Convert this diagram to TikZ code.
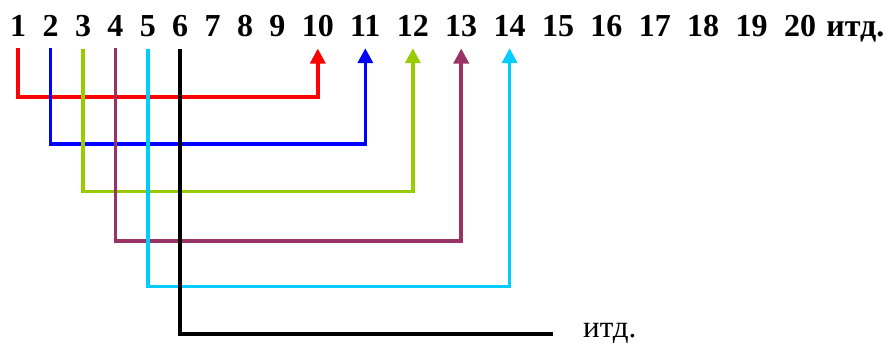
\documentclass[tikz,border=0pt]{standalone}
\usepackage{fontspec}
\setmainfont{Liberation Serif}
\usetikzlibrary{positioning,arrows.meta}
\definecolor{linkgreen}{HTML}{99CC00}
\definecolor{linkplum}{HTML}{993366}
\definecolor{linkcyan}{HTML}{00CCFF}
\begin{document}
\begin{tikzpicture}[x=1pt,y=-1pt,
  num/.style={inner xsep=0pt,inner ysep=11pt,font=\fontsize{32}{38}\selectfont\bfseries},
  link/.style={line width=3.5pt,-{Triangle[width=15pt,length=15pt]}}]
\useasboundingbox (0,0) rectangle (886,344);
% top row of numbers
\node[num,anchor=base west] (n1) at (10,37) {1};
\foreach \i [remember=\i as \p (initially 1)] in {2,...,20}
  \node[num,base right=16pt of n\p] (n\i) {\i};
\node[num,base right=10pt of n20] (etc1) {итд.};
% jumps
\draw[link,red] (n1.south) -- ++(0,49) -| (n10.south);
\draw[link,blue] (n2.south) -- ++(0,96) -| (n11.south);
\draw[link,linkgreen] (n3.south) -- ++(0,143) -| (n12.south);
\draw[link,linkplum] (n4.south) -- ++(0,193) -| (n13.south);
\draw[link,linkcyan] (n5.south) -- ++(0,238) -| (n14.south);
\coordinate (blackend) at (553,334);
\draw[line width=3.5pt] (n6.south) |- (blackend);
\node[anchor=base west,inner sep=0pt,font=\fontsize{31}{36}\selectfont] (etc2) at (583,338) {итд.};
\end{tikzpicture}
\end{document}
